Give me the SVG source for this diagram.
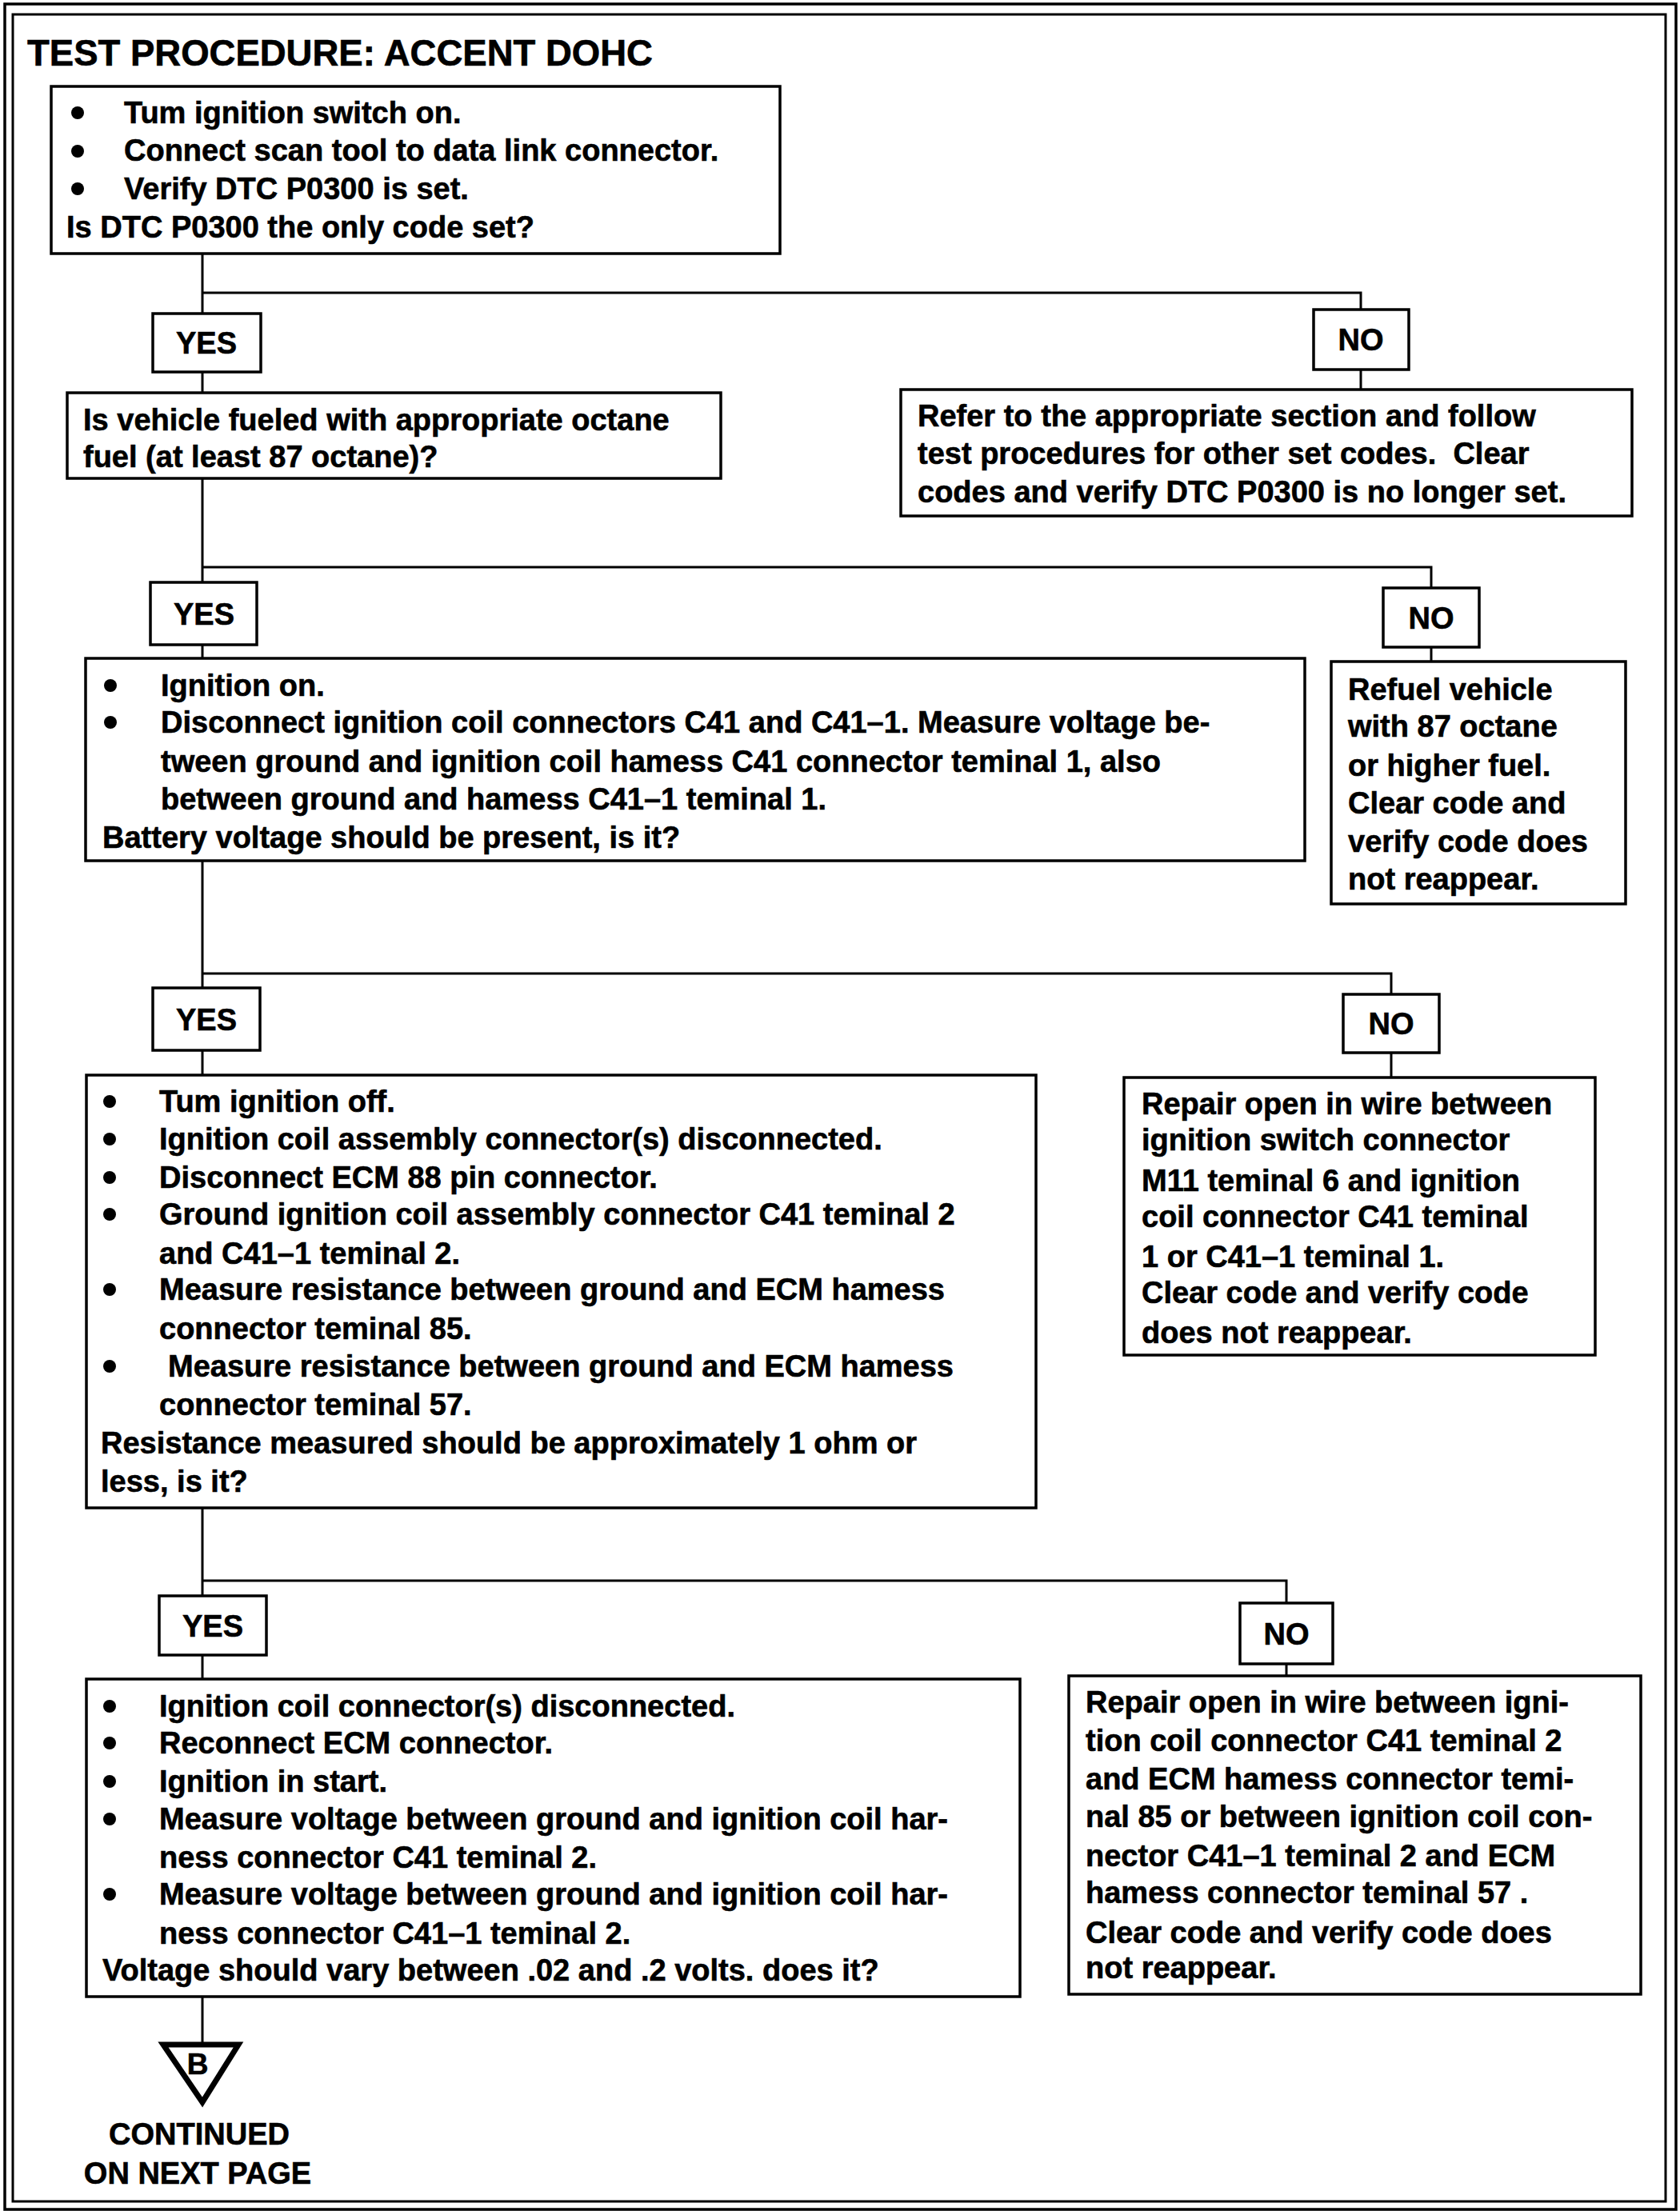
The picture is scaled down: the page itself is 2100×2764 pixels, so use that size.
<svg xmlns="http://www.w3.org/2000/svg" width="2100" height="2764" viewBox="0 0 2100 2764">
<style>
.bx{fill:#fff;stroke:#000;stroke-width:3.5}
.ln{fill:none;stroke:#000;stroke-width:3}
.t{font-family:"Liberation Sans",Arial,sans-serif;font-weight:bold;font-size:38px;fill:#000;stroke:#000;stroke-width:0.6}
.c{text-anchor:middle}
.ttl{font-size:45.5px}
.b{fill:#000}
</style>
<rect width="2100" height="2764" fill="#fff"/>
<g id="border">
<rect x="6" y="5" width="2089" height="2757" class="ln" style="stroke-width:3.5"/>
<rect x="16" y="18" width="2066" height="2734" class="ln"/>
</g>
<text class="t ttl" x="34" y="82">TEST PROCEDURE: ACCENT DOHC</text>
<g id="connectors">
<path class="ln" d="M253,317 V392 M253,366 H1701 V387 M1701,462 V487"/>
<path class="ln" d="M253,465 V491"/>
<path class="ln" d="M253,598 V728 M253,709 H1789 V735 M1789,809 V827"/>
<path class="ln" d="M253,806 V823"/>
<path class="ln" d="M253,1076 V1235 M253,1217 H1739 V1243 M1739,1316 V1347"/>
<path class="ln" d="M253,1313 V1344"/>
<path class="ln" d="M253,1885 V1995 M253,1976 H1608 V2004 M1608,2080 V2095"/>
<path class="ln" d="M253,2069 V2099"/>
<path class="ln" d="M253,2496 V2553"/>
</g>
<g id="n1">
<rect class="bx" x="64" y="108" width="911" height="209"/>
<circle class="b" cx="97" cy="141" r="8"/><circle class="b" cx="97" cy="189" r="8"/><circle class="b" cx="97" cy="236" r="8"/>
<text class="t" x="155" y="154">Tum ignition switch on.</text>
<text class="t" x="155" y="201">Connect scan tool to data link connector.</text>
<text class="t" x="155" y="249">Verify DTC P0300 is set.</text>
<text class="t" x="83" y="297">Is DTC P0300 the only code set?</text>
</g>
<g id="yes1"><rect class="bx" x="191" y="392" width="135" height="73"/><text class="t c" x="258" y="442">YES</text></g>
<g id="no1"><rect class="bx" x="1642" y="387" width="119" height="75"/><text class="t c" x="1701" y="438">NO</text></g>
<g id="n2">
<rect class="bx" x="84" y="491" width="817" height="107"/>
<text class="t" x="104" y="538">Is vehicle fueled with appropriate octane</text>
<text class="t" x="104" y="584">fuel (at least 87 octane)?</text>
</g>
<g id="n3">
<rect class="bx" x="1126" y="487" width="914" height="158"/>
<text class="t" x="1147" y="533">Refer to the appropriate section and follow</text>
<text class="t" x="1147" y="580" xml:space="preserve">test procedures for other set codes.  Clear</text>
<text class="t" x="1147" y="628">codes and verify DTC P0300 is no longer set.</text>
</g>
<g id="yes2"><rect class="bx" x="188" y="728" width="133" height="78"/><text class="t c" x="255" y="781">YES</text></g>
<g id="no2"><rect class="bx" x="1729" y="735" width="120" height="74"/><text class="t c" x="1789" y="786">NO</text></g>
<g id="n4">
<rect class="bx" x="107" y="823" width="1524" height="253"/>
<circle class="b" cx="138" cy="857" r="8"/><circle class="b" cx="138" cy="903" r="8"/>
<text class="t" x="201" y="870">Ignition on.</text>
<text class="t" x="201" y="916">Disconnect ignition coil connectors C41 and C41–1. Measure voltage be-</text>
<text class="t" x="201" y="965">tween ground and ignition coil hamess C41 connector teminal 1, also</text>
<text class="t" x="201" y="1012">between ground and hamess C41–1 teminal 1.</text>
<text class="t" x="128" y="1060">Battery voltage should be present, is it?</text>
</g>
<g id="n5">
<rect class="bx" x="1664" y="827" width="368" height="303"/>
<text class="t" x="1685" y="875">Refuel vehicle</text>
<text class="t" x="1685" y="921">with 87 octane</text>
<text class="t" x="1685" y="970">or higher fuel.</text>
<text class="t" x="1685" y="1017">Clear code and</text>
<text class="t" x="1685" y="1065">verify code does</text>
<text class="t" x="1685" y="1112">not reappear.</text>
</g>
<g id="yes3"><rect class="bx" x="191" y="1235" width="134" height="78"/><text class="t c" x="258" y="1288">YES</text></g>
<g id="no3"><rect class="bx" x="1679" y="1243" width="120" height="73"/><text class="t c" x="1739" y="1293">NO</text></g>
<g id="n6">
<rect class="bx" x="108" y="1344" width="1187" height="541"/>
<circle class="b" cx="137" cy="1377" r="8"/><circle class="b" cx="137" cy="1424" r="8"/><circle class="b" cx="137" cy="1472" r="8"/><circle class="b" cx="137" cy="1518" r="8"/><circle class="b" cx="137" cy="1612" r="8"/><circle class="b" cx="137" cy="1708" r="8"/>
<text class="t" x="199" y="1390">Tum ignition off.</text>
<text class="t" x="199" y="1437">Ignition coil assembly connector(s) disconnected.</text>
<text class="t" x="199" y="1485">Disconnect ECM 88 pin connector.</text>
<text class="t" x="199" y="1531">Ground ignition coil assembly connector C41 teminal 2</text>
<text class="t" x="199" y="1580">and C41–1 teminal 2.</text>
<text class="t" x="199" y="1625">Measure resistance between ground and ECM hamess</text>
<text class="t" x="199" y="1674">connector teminal 85.</text>
<text class="t" x="210" y="1721">Measure resistance between ground and ECM hamess</text>
<text class="t" x="199" y="1769">connector teminal 57.</text>
<text class="t" x="126" y="1817">Resistance measured should be approximately 1 ohm or</text>
<text class="t" x="126" y="1865">less, is it?</text>
</g>
<g id="n7">
<rect class="bx" x="1405" y="1347" width="589" height="347"/>
<text class="t" x="1427" y="1393">Repair open in wire between</text>
<text class="t" x="1427" y="1438">ignition switch connector</text>
<text class="t" x="1427" y="1489">M11 teminal 6 and ignition</text>
<text class="t" x="1427" y="1534">coil connector C41 teminal</text>
<text class="t" x="1427" y="1584">1 or C41–1 teminal 1.</text>
<text class="t" x="1427" y="1629">Clear code and verify code</text>
<text class="t" x="1427" y="1679">does not reappear.</text>
</g>
<g id="yes4"><rect class="bx" x="199" y="1995" width="134" height="74"/><text class="t c" x="266" y="2046">YES</text></g>
<g id="no4"><rect class="bx" x="1550" y="2004" width="116" height="76"/><text class="t c" x="1608" y="2056">NO</text></g>
<g id="n8">
<rect class="bx" x="108" y="2099" width="1167" height="397"/>
<circle class="b" cx="137" cy="2133" r="8"/><circle class="b" cx="137" cy="2179" r="8"/><circle class="b" cx="137" cy="2227" r="8"/><circle class="b" cx="137" cy="2274" r="8"/><circle class="b" cx="137" cy="2368" r="8"/>
<text class="t" x="199" y="2146">Ignition coil connector(s) disconnected.</text>
<text class="t" x="199" y="2192">Reconnect ECM connector.</text>
<text class="t" x="199" y="2240">Ignition in start.</text>
<text class="t" x="199" y="2287">Measure voltage between ground and ignition coil har-</text>
<text class="t" x="199" y="2335">ness connector C41 teminal 2.</text>
<text class="t" x="199" y="2381">Measure voltage between ground and ignition coil har-</text>
<text class="t" x="199" y="2430">ness connector C41–1 teminal 2.</text>
<text class="t" x="128" y="2476">Voltage should vary between .02 and .2 volts. does it?</text>
</g>
<g id="n9">
<rect class="bx" x="1336" y="2095" width="715" height="398"/>
<text class="t" x="1357" y="2141">Repair open in wire between igni-</text>
<text class="t" x="1357" y="2189">tion coil connector C41 teminal 2</text>
<text class="t" x="1357" y="2237">and ECM hamess connector temi-</text>
<text class="t" x="1357" y="2284">nal 85 or between ignition coil con-</text>
<text class="t" x="1357" y="2333">nector C41–1 teminal 2 and ECM</text>
<text class="t" x="1357" y="2379">hamess connector teminal 57 .</text>
<text class="t" x="1357" y="2429">Clear code and verify code does</text>
<text class="t" x="1357" y="2473">not reappear.</text>
</g>
<g id="offpage">
<path d="M204,2556 H298 L253,2628 Z" fill="none" stroke="#000" stroke-width="7" stroke-linejoin="miter"/>
<text class="t c" x="247" y="2593" style="font-size:37px">B</text>
<text class="t c" x="249" y="2681">CONTINUED</text>
<text class="t c" x="247" y="2730">ON NEXT PAGE</text>
</g>
</svg>
